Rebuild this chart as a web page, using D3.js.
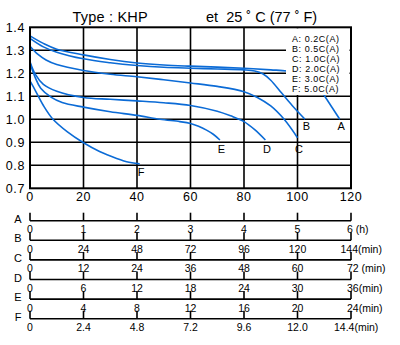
<!DOCTYPE html>
<html><head><meta charset="utf-8">
<script src="https://cdn.jsdelivr.net/npm/d3@7"></script>
<style>
body{margin:0;background:#fff;}
svg text{font-family:"Liberation Sans",Arial,sans-serif;fill:#000;white-space:pre;}
</style></head>
<body><svg id="c" width="400" height="345"></svg>
<script>
// ---- data ----
const xTicks = [0,20,40,60,80,100,120];
const yTicks = [0.7,0.8,0.9,1.0,1.1,1.2,1.3,1.4];
const seriesNames = ["A","B","C","D","E","F"];
const legendLabels = ["A: 0.2C(A)","B: 0.5C(A)","C: 1.0C(A)","D: 2.0C(A)","E: 3.0C(A)","F: 5.0C(A)"];
const curveA = [[0,1.363],[5,1.33],[10,1.305],[20,1.28],[30,1.26],[40,1.245],[50,1.236],[60,1.231],[70,1.227],[80,1.222],[90,1.215],[96,1.21],[100,1.2],[104,1.175],[108,1.135],[110.3,1.098],[113,1.05],[115.8,1.0]];
const curveB = [[0,1.352],[5,1.315],[10,1.292],[20,1.263],[30,1.246],[40,1.234],[50,1.226],[60,1.222],[70,1.219],[80,1.215],[84,1.21],[87,1.198],[90,1.17],[94,1.115],[98,1.06],[102.8,1.0]];
const curveC = [[0,1.318],[3,1.282],[6,1.258],[10,1.238],[20,1.212],[30,1.196],[40,1.185],[50,1.172],[60,1.158],[70,1.143],[80,1.12],[85,1.095],[90,1.058],[95,1.0],[100,0.92]];
const curveD = [[0,1.25],[2,1.195],[5,1.152],[10,1.122],[20,1.095],[30,1.087],[40,1.08],[50,1.072],[60,1.06],[70,1.035],[75,1.015],[80,0.99],[84,0.955],[88,0.91]];
const curveE = [[0,1.245],[1,1.21],[2,1.18],[4,1.135],[8,1.095],[12,1.073],[20,1.053],[30,1.033],[40,1.017],[48.6,1.0],[56,0.99],[60,0.982],[63,0.97],[66,0.953],[68.5,0.935],[71,0.91]];
const curveF = [[0,1.167],[2,1.125],[5,1.06],[8.6,1.0],[14,0.945],[19.7,0.9],[26,0.86],[32.4,0.83],[37,0.813],[41,0.806]];
const curves = [curveA,curveB,curveC,curveD,curveE,curveF];

const subAxisLetters = ["A","B","C","D","E","F"];
const subAxisTicks = [
  ["0","1","2","3","4","5","6"],
  ["0","24","48","72","96","120","144"],
  ["0","12","24","36","48","60","72"],
  ["0","6","12","18","24","30","36"],
  ["0","4","8","12","16","20","24"],
  ["0","2.4","4.8","7.2","9.6","12.0","14.4"]
];
const subAxisUnits = [" (h)","(min)"," (min)","(min)","(min)","(min)"];

// ---- drawing ----
const svg = d3.select("#c");
const L=30, R=351, T=27.3, B=188.3;
const x = d3.scaleLinear().domain([0,120]).range([L,R]);
const y = d3.scaleLinear().domain([0.7,1.4]).range([B,T]);
const blue = "#0b6bd6";

// title
svg.append("text").attr("x",72.5).attr("y",22).attr("font-size",14.5).attr("letter-spacing",0.2).text("Type : KHP");
svg.append("text").attr("x",206).attr("y",22).attr("font-size",14.5).text("et  25 ˚ C (77 ˚ F)");

// grid
const g = svg.append("g");
g.selectAll(".hg").data(yTicks.slice(1,-1)).join("line")
  .attr("x1",L).attr("x2",R).attr("y1",d=>y(d)).attr("y2",d=>y(d))
  .attr("stroke","#000").attr("stroke-width",1.6);
g.selectAll(".vg").data(xTicks.slice(1,-1)).join("line")
  .attr("x1",d=>x(d)).attr("x2",d=>x(d)).attr("y1",T).attr("y2",B)
  .attr("stroke","#000").attr("stroke-width",1.6);

// curves
const line = d3.line().x(d=>x(d[0])).y(d=>y(d[1])).curve(d3.curveCatmullRom.alpha(0.5));
svg.selectAll(".crv").data(curves).join("path")
  .attr("d",line).attr("fill","none").attr("stroke",blue).attr("stroke-width",1.6);

// legend box (covers grid)
svg.append("rect").attr("x",286).attr("y",T+1).attr("width",R-286-1.5).attr("height",94-T)
  .attr("fill","#fff");
svg.selectAll(".lg").data(legendLabels).join("text")
  .attr("x",292).attr("y",(d,i)=>41.5+i*10).attr("font-size",9).attr("letter-spacing",0.55)
  .text(d=>d);

// frame
svg.append("rect").attr("x",L).attr("y",T).attr("width",R-L).attr("height",B-T)
  .attr("fill","none").attr("stroke","#000").attr("stroke-width",2);

// end labels
svg.selectAll(".el").data(curves).join("text")
  .attr("x",d=>x(d[d.length-1][0])+1.5)
  .attr("y",d=>y(Math.floor(d[d.length-1][1]*10+1e-6)/10)+10.5)
  .attr("text-anchor","middle").attr("font-size",11)
  .text((d,i)=>seriesNames[i]);

// y labels
svg.selectAll(".yl").data(yTicks).join("text")
  .attr("x",25).attr("y",d=>y(d)+4.5).attr("text-anchor","end").attr("font-size",12.5)
  .attr("letter-spacing",0.6).text(d=>d.toFixed(1));
// x labels
svg.selectAll(".xl").data(xTicks).join("text")
  .attr("x",d=>x(d)).attr("y",201).attr("text-anchor","middle").attr("font-size",12.5)
  .attr("letter-spacing",0.6).text(d=>d);

// sub axes
subAxisTicks.forEach((ticks,i)=>{
  const ly = 220.7 + i*19.6;
  const s = d3.scalePoint().domain(ticks).range([L,R]);
  const ag = svg.append("g");
  ag.append("line").attr("x1",L).attr("x2",R).attr("y1",ly).attr("y2",ly)
    .attr("stroke","#000").attr("stroke-width",1.6);
  ag.selectAll("line.t").data(ticks).join("line").attr("class","t")
    .attr("x1",d=>s(d)).attr("x2",d=>s(d)).attr("y1",ly).attr("y2",ly-8)
    .attr("stroke","#000").attr("stroke-width",1.6);
  ag.append("text").attr("x",18).attr("y",ly+2).attr("text-anchor","middle")
    .attr("font-size",11).text(subAxisLetters[i]);
  ag.selectAll("text.tl").data(ticks).join("text").attr("class","tl")
    .attr("x",(d,j)=> j===ticks.length-1 ? s(d)-4-Math.max(0,d.length-2)*6.5 : s(d))
    .attr("y",ly+12.5)
    .attr("text-anchor",(d,j)=> j===ticks.length-1 ? "start" : "middle")
    .attr("font-size",10.5)
    .text((d,j)=> j===ticks.length-1 ? d+subAxisUnits[i] : d);
});
</script></body></html>
